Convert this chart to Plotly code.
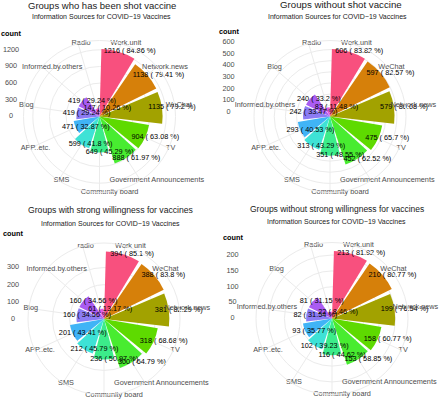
import plotly.graph_objects as go

# ---------------- data ----------------
TITLE_1 = "Groups who has been shot vaccine"
CATS_1 = ["Work.unit", "Network.news", "WeChat", "TV", "Government Announcements",
          "Community board", "SMS", "APP..etc.", "Blog", "Informed.by.others", "Radio"]
COUNTS_1 = [1216, 1138, 1135, 904, 888, 649, 599, 471, 419, 419, 147]
PCT_1 = [84.86, 79.41, 79.2, 63.08, 61.97, 45.29, 41.8, 32.87, 29.24, 29.24, 10.26]
TICKS_1 = [0, 300, 600, 900, 1200]

TITLE_2 = "Groups without shot vaccine"
CATS_2 = ["Work.unit", "WeChat", "Network.news", "TV", "Government Announcements",
          "Community board", "SMS", "APP..etc.", "Informed.by.others", "Blog", "Radio"]
COUNTS_2 = [606, 597, 579, 475, 452, 351, 313, 293, 242, 240, 83]
PCT_2 = [83.82, 82.57, 80.08, 65.7, 62.52, 48.55, 43.29, 40.53, 33.47, 33.2, 11.48]
TICKS_2 = [0, 100, 200, 300, 400, 500, 600]

TITLE_3 = "Groups with strong willingness for vaccines"
CATS_3 = ["Work unit", "WeChat", "Network.news", "TV", "Government Announcements",
          "Community board", "SMS", "APP..etc.", "Blog", "Informed.by.others", "radio"]
COUNTS_3 = [394, 388, 381, 318, 300, 236, 212, 201, 160, 160, 61]
PCT_3 = [85.1, 83.8, 82.29, 68.68, 64.79, 50.97, 45.79, 43.41, 34.56, 34.56, 13.17]
TICKS_3 = [0, 100, 200, 300]

TITLE_4 = "Groups without strong willingness for vaccines"
CATS_4 = ["Work.unit", "WeChat", "Network.news", "TV", "Government Announcements",
          "Community board", "SMS", "APP..etc.", "Informed.by.others", "Blog", "Radio"]
COUNTS_4 = [213, 210, 199, 158, 153, 116, 102, 93, 82, 81, 22]
PCT_4 = [81.92, 80.77, 76.54, 60.77, 58.85, 44.62, 39.23, 35.77, 31.54, 31.15, 8.46]
TICKS_4 = [0, 50, 100, 150, 200]

SUBTITLE = "Information Sources for COVID\u221219 Vaccines"
AXIS_TITLE = "count"

# ---------------- styles / layout ----------------
COLORS = ["#F8507E", "#D6800A", "#A2A200", "#5EDA00", "#48EC30", "#3CEC8A",
          "#3EE2D6", "#40B4F6", "#8C7CF4", "#AA5CF2", "#E25AE4"]
W, H = 440, 404
R = 76.0  # pixel radius of outer (0.45) circle
GRID = "#EBEBEB"
FONT = "Liberation Sans, Arial, sans-serif"

# per panel geometry (pixels)
GEOM = [
    dict(cx=99.5, cy=116.5, tick_x=11, count_y=34, tx=102, ty=5.5, sx=101, sy=16.7,
         zero_y=116.5, ppu=None, tsize=9.5),
    dict(cx=330, cy=116.5, tick_x=228.5, count_y=31.7, tx=341, ty=4.5, sx=337.5, sy=16,
         zero_y=112, ppu=0.1165, tsize=9.7),
    dict(cx=104, cy=319, tick_x=13, count_y=234, tx=110, ty=210, sx=110.3, sy=223.3,
         zero_y=319, ppu=None, tsize=8.65),
    dict(cx=332, cy=318.5, tick_x=232.5, count_y=237.3, tx=336.7, ty=208.5, sx=336.7,
         sy=221.7, zero_y=318.5, ppu=None, tsize=8.5),
]

LOWER = dict(zip("abcdefghijklmnopqrstuvwxyz",
                 [.556, .556, .5, .556, .556, .278, .556, .556, .222, .222, .5, .222, .833,
                  .556, .556, .556, .556, .333, .5, .278, .556, .5, .722, .5, .5, .5]))
SPECIAL = {" ": 0.278, "(": 0.333, ")": 0.333, ".": 0.278, "%": 0.889,
           "C": .722, "G": .778, "I": .278, "T": .611, "W": .944, "M": .833, "N": .722}


def em_width(s):
    w = 0.0
    for ch in s:
        if ch in SPECIAL:
            w += SPECIAL[ch]
        elif ch in LOWER:
            w += LOWER[ch]
        elif ch.isdigit():
            w += 0.556
        else:
            w += 0.667
    return w


def padded(s, frac):
    pad = int(round(frac * em_width(s) / 0.278))
    return "\u00a0" * pad + s


panels = [
    (TITLE_1, CATS_1, COUNTS_1, PCT_1, TICKS_1),
    (TITLE_2, CATS_2, COUNTS_2, PCT_2, TICKS_2),
    (TITLE_3, CATS_3, COUNTS_3, PCT_3, TICKS_3),
    (TITLE_4, CATS_4, COUNTS_4, PCT_4, TICKS_4),
]

fig = go.Figure()
layout = dict(
    width=W, height=H, margin=dict(l=0, r=0, t=0, b=0),
    paper_bgcolor="white", plot_bgcolor="rgba(0,0,0,0)",
    showlegend=False, template="none", font=dict(family=FONT),
)
annotations = []

for k, ((title, cats, counts, pct, ticks), g) in enumerate(zip(panels, GEOM), start=1):
    pname = "polar" if k == 1 else f"polar{k}"
    rmax = max(counts) * 0.45 / 0.4
    n = len(cats)
    fig.add_trace(go.Barpolar(
        r=counts, theta=cats, subplot=pname,
        marker=dict(color=COLORS[:n], line=dict(width=0)),
        hoverinfo="skip",
    ))
    fig.add_trace(go.Scatterpolar(
        r=counts, theta=cats, subplot=pname, mode="text",
        text=[padded(f"{c} ( {p} %)", 0.42) for c, p in zip(counts, pct)],
        textposition="middle center",
        textfont=dict(size=7.3, color="#000000", family=FONT),
        cliponaxis=False, hoverinfo="skip",
    ))
    fig.add_trace(go.Scatterpolar(
        r=[rmax] * n, theta=cats, subplot=pname, mode="text",
        text=[padded(c, 0.34) for c in cats], textposition="middle center",
        textfont=dict(size=7.3, color="#4D4D4D", family=FONT),
        cliponaxis=False, hoverinfo="skip",
    ))
    layout[pname] = dict(
        domain=dict(x=[(g["cx"] - R) / W, (g["cx"] + R) / W],
                    y=[1 - (g["cy"] + R) / H, 1 - (g["cy"] - R) / H]),
        bgcolor="rgba(0,0,0,0)",
        bargap=0.1,
        radialaxis=dict(range=[0, rmax], tickvals=ticks, showticklabels=False,
                        ticks="", showline=False, gridcolor=GRID, gridwidth=1),
        angularaxis=dict(type="category", categoryarray=cats, rotation=90 - 180.0 / n,
                         direction="clockwise", showticklabels=False, ticks="",
                         showline=True, linecolor=GRID, linewidth=1,
                         showgrid=True, gridcolor=GRID, gridwidth=1),
    )

    # r-axis tick labels on the left, drawn via a cartesian axis aligned to the radius
    ppu = g["ppu"] if g["ppu"] else R / rmax
    top_val = (g["zero_y"] - (g["cy"] - R)) / ppu
    xa = "x" if k == 1 else f"x{k}"
    ya = "y" if k == 1 else f"y{k}"
    fig.add_trace(go.Scatter(
        x=[0] * len(ticks), y=ticks, text=[str(t) for t in ticks], mode="text",
        textposition="middle center", xaxis=xa, yaxis=ya, cliponaxis=False,
        textfont=dict(size=7.3, color="#4D4D4D", family=FONT), hoverinfo="skip",
    ))
    xname = "xaxis" if k == 1 else f"xaxis{k}"
    yname = "yaxis" if k == 1 else f"yaxis{k}"
    layout[xname] = dict(domain=[(g["tick_x"] - 5) / W, (g["tick_x"] + 5) / W],
                         range=[-1, 1], visible=False, anchor=ya, fixedrange=True)
    layout[yname] = dict(domain=[1 - g["zero_y"] / H, 1 - (g["cy"] - R) / H],
                         range=[0, top_val], visible=False, anchor=xa, fixedrange=True)

    annotations.append(dict(text=title, x=g["tx"] / W, y=1 - g["ty"] / H, xref="paper",
                            yref="paper", xanchor="center", yanchor="middle", showarrow=False,
                            font=dict(size=g["tsize"], color="#1A1A1A", family=FONT)))
    annotations.append(dict(text=SUBTITLE, x=g["sx"] / W, y=1 - g["sy"] / H, xref="paper",
                            yref="paper", xanchor="center", yanchor="middle", showarrow=False,
                            font=dict(size=7, color="#1A1A1A", family=FONT)))
    annotations.append(dict(text=AXIS_TITLE, x=g["tick_x"] / W, y=1 - g["count_y"] / H,
                            xref="paper", yref="paper", xanchor="center", yanchor="middle",
                            showarrow=False,
                            font=dict(size=7.3, color="#000000", family=FONT, weight="bold")))

layout["annotations"] = annotations
fig.update_layout(**layout)
fig.write_html("out.html", config={"displayModeBar": False},
               post_script="document.body.style.margin='0';document.body.style.padding='0';")
